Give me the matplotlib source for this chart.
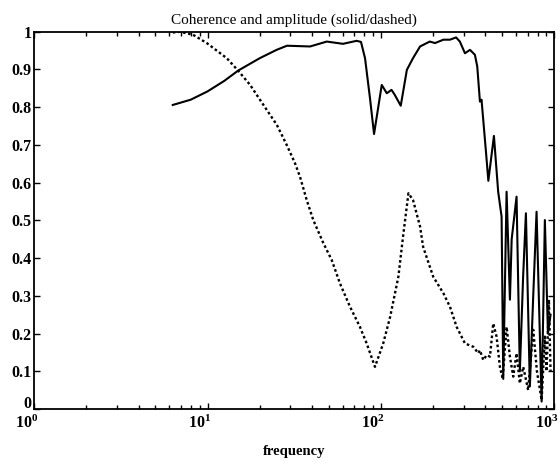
import numpy as np
import matplotlib
matplotlib.use("Agg")
import matplotlib.pyplot as plt
import matplotlib.transforms as mtransforms
from matplotlib.ticker import LogLocator, FixedLocator

plt.rcParams["font.family"] = ["Liberation Serif", "DejaVu Serif"]
plt.rcParams["mathtext.fontset"] = "stix"

# ----- coherence (solid) ----------------------------------------------------
coh_f = [6.3, 8, 10, 12.5, 15, 20, 25, 28.7, 39, 48.7, 60.4, 72.4, 76.7, 80.9,
         86.4, 91.2, 101, 108, 115, 120, 130, 141, 153, 168, 191, 205, 229,
         250, 271, 285, 305, 326, 348, 359, 372, 380, 403, 416, 448, 474, 496,
         507, 530, 554, 567, 605, 632, 660, 685, 722, 755, 789, 844, 881, 918,
         950]
coh_v = [0.806, 0.82, 0.842, 0.87, 0.897, 0.93, 0.952, 0.963, 0.961, 0.974,
         0.968, 0.976, 0.973, 0.93, 0.824, 0.729, 0.859, 0.837, 0.846, 0.833,
         0.804, 0.899, 0.930, 0.961, 0.974, 0.970, 0.979, 0.979, 0.985, 0.974,
         0.943, 0.952, 0.939, 0.908, 0.815, 0.82, 0.682, 0.605, 0.724, 0.576,
         0.51, 0.08, 0.576, 0.29, 0.45, 0.563, 0.10, 0.35, 0.519, 0.06, 0.30,
         0.523, 0.02, 0.501, 0.2, 0.25]

# ----- amplitude (dashed) ---------------------------------------------------
amp_f = [6.3, 6.94, 8.25, 9.9, 12.9, 15.0, 17.6, 21.0, 25.1, 28.6, 31.9, 34.1,
         37.3, 40.7, 46.5, 52.0, 58.0, 66.3, 75.6, 82.7, 92.3, 103, 113, 126,
         134, 144, 153, 168, 175, 200, 229, 250, 273, 305, 341, 364, 372, 389,
         407, 425, 444, 464, 485, 503, 530, 554, 579, 605, 632, 661, 706, 755,
         793, 844, 881, 901, 930, 950]
amp_v = [0.998, 1.0, 0.992, 0.970, 0.930, 0.897, 0.859, 0.806, 0.753, 0.70,
         0.652, 0.616, 0.554, 0.501, 0.440, 0.395, 0.333, 0.271, 0.218, 0.174,
         0.112, 0.174, 0.245, 0.351, 0.457, 0.572, 0.554, 0.484, 0.43, 0.351,
         0.307, 0.271, 0.218, 0.174, 0.165, 0.148, 0.156, 0.130, 0.143, 0.139,
         0.227, 0.192, 0.112, 0.081, 0.218, 0.139, 0.086, 0.148, 0.068, 0.112,
         0.050, 0.21, 0.10, 0.024, 0.192, 0.10, 0.29, 0.1]

Y_TICKS = [0, 0.1, 0.2, 0.3, 0.4, 0.5, 0.6, 0.7, 0.8, 0.9, 1]
Y_LABELS = ["0", "0.1", "0.2", "0.3", "0.4", "0.5", "0.6", "0.7", "0.8", "0.9", "1"]

fig = plt.figure(figsize=(5.6, 4.67), dpi=100)
ax = fig.add_axes([0.061, 0.124, 0.929, 0.808])

ax.semilogx(coh_f, coh_v, color="black", lw=1.5)
ax.semilogx(amp_f, amp_v, color="black", lw=1.7, linestyle=(0, (1.1, 1.1)))

ax.set_xlim(1, 1000)
ax.set_ylim(0, 1)
ax.yaxis.set_major_locator(FixedLocator(Y_TICKS))
ax.set_yticklabels(Y_LABELS)
ax.xaxis.set_major_locator(LogLocator(base=10, numticks=10))
ax.xaxis.set_minor_locator(LogLocator(base=10, subs=np.arange(2, 10), numticks=10))

ax.tick_params(which="both", direction="in", top=True, right=True,
               labelsize=11.5, width=1.0)
ax.tick_params(axis="x", pad=4)
ax.tick_params(axis="y", pad=2)
ax.tick_params(which="major", length=4)
ax.tick_params(which="minor", length=3)
for s in ax.spines.values():
    s.set_linewidth(1.3)

fig.canvas.draw()
shift = mtransforms.ScaledTranslation(-8 / 100, 0, fig.dpi_scale_trans)
for lab in ax.get_xticklabels():
    lab.set_transform(lab.get_transform() + shift)
# nudge the "0" label up so it clears the 10^0 label
ylabs = ax.get_yticklabels()
ylabs[0].set_transform(ylabs[0].get_transform()
                       + mtransforms.ScaledTranslation(0, 7 / 100, fig.dpi_scale_trans))
for lab in ylabs + ax.get_xticklabels():
    lab.set_fontweight("bold")

ax.set_title("Coherence and amplitude (solid/dashed)", fontsize=11, pad=6)
ax.set_xlabel("frequency", fontsize=10.5, fontweight="bold")
ax.xaxis.set_label_coords(0.5, -0.095)

fig.savefig("out.png", dpi=100)
